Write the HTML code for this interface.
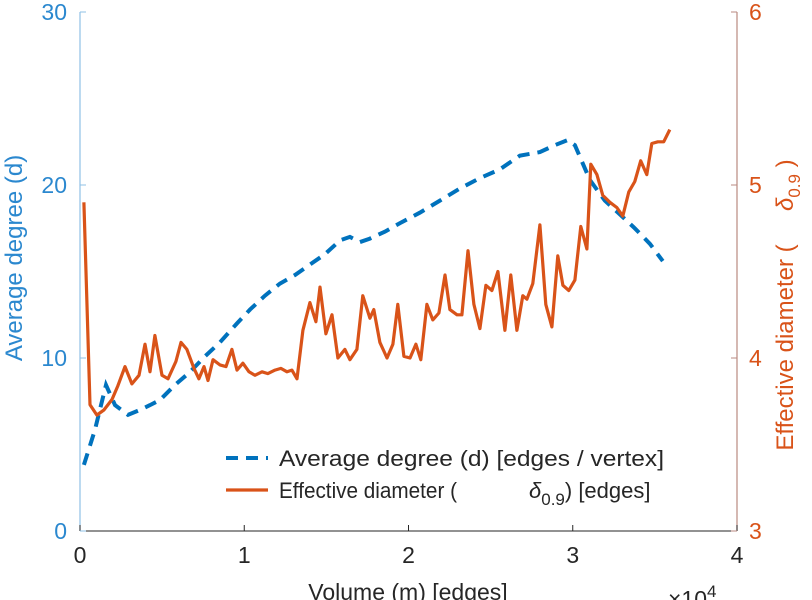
<!DOCTYPE html>
<html><head><meta charset="utf-8"><style>
html,body{margin:0;padding:0;background:#fff;width:812px;height:600px;overflow:hidden}
svg{display:block;font-family:"Liberation Sans",Arial,sans-serif}
</style></head><body>
<svg id="chart" width="812" height="600" viewBox="0 0 812 600" xmlns="http://www.w3.org/2000/svg"></svg>
<script>
const xTicks=[0,1,2,3,4];
const leftTicks=[0,10,20,30];
const rightTicks=[3,4,5,6];
const degX=[0.024,0.091,0.158,0.213,0.292,0.365,0.426,0.487,0.578,0.670,0.761,0.852,0.956,1.035,1.126,1.217,1.309,1.400,1.491,1.583,1.643,1.704,1.765,1.856,1.948,2.069,2.191,2.313,2.435,2.556,2.678,2.800,2.891,2.970,3.013,3.104,3.195,3.287,3.378,3.470,3.548];
const degY=[3.82,5.84,8.44,7.28,6.71,7.0,7.28,7.57,8.44,9.19,10.1,10.9,12.0,12.8,13.6,14.3,14.8,15.4,16.0,16.8,17.0,16.7,16.9,17.3,17.8,18.4,19.1,19.8,20.4,20.9,21.7,21.9,22.3,22.6,22.3,20.3,19.1,18.3,17.5,16.6,15.6];
const diaX=[0.024,0.061,0.103,0.146,0.195,0.231,0.274,0.316,0.359,0.396,0.426,0.456,0.499,0.536,0.584,0.615,0.651,0.694,0.724,0.755,0.779,0.810,0.852,0.889,0.925,0.956,0.992,1.029,1.065,1.108,1.144,1.187,1.223,1.260,1.290,1.321,1.357,1.400,1.436,1.461,1.497,1.534,1.570,1.613,1.643,1.686,1.722,1.765,1.789,1.826,1.869,1.905,1.935,1.972,2.009,2.045,2.075,2.112,2.148,2.185,2.222,2.252,2.295,2.325,2.362,2.398,2.435,2.471,2.508,2.544,2.587,2.623,2.660,2.696,2.721,2.757,2.800,2.836,2.873,2.909,2.940,2.976,3.013,3.049,3.086,3.110,3.147,3.183,3.226,3.268,3.305,3.341,3.378,3.414,3.451,3.481,3.518,3.554,3.591];
const diaY=[4.90,3.73,3.67,3.70,3.76,3.84,3.95,3.85,3.90,4.08,3.92,4.13,3.90,3.88,3.98,4.09,4.05,3.94,3.88,3.95,3.87,3.99,3.96,3.95,4.05,3.93,3.97,3.92,3.90,3.92,3.91,3.93,3.94,3.92,3.93,3.88,4.16,4.32,4.21,4.41,4.14,4.25,4.00,4.05,3.99,4.05,4.36,4.23,4.28,4.09,4.00,4.08,4.31,4.01,4.00,4.08,3.99,4.31,4.22,4.26,4.48,4.28,4.25,4.25,4.62,4.31,4.17,4.42,4.39,4.50,4.16,4.48,4.16,4.36,4.34,4.43,4.77,4.31,4.18,4.59,4.42,4.39,4.45,4.76,4.63,5.12,5.06,4.94,4.90,4.87,4.82,4.96,5.02,5.14,5.06,5.24,5.25,5.25,5.32];

const L=80,R=737,T=12,B=531;
const BLUE="#0072BD",BLUET="#2b88cf",ORANGE="#D95319";
const sx=v=>L+(v-0)/(4-0)*(R-L);
const sl=v=>B-(v-0)/(30-0)*(B-T);
const sr=v=>B-(v-3)/(6-3)*(B-T);
const svg=document.getElementById('chart');
const NS="http://www.w3.org/2000/svg";
function mk(tag,attrs,parent){const e=document.createElementNS(NS,tag);for(const k in attrs)e.setAttribute(k,attrs[k]);(parent||svg).appendChild(e);return e;}

const ax=mk('g',{});


mk('line',{x1:L,y1:B,x2:R,y2:B,stroke:'#262626','stroke-width':1},ax);
mk('line',{x1:L,y1:T,x2:L,y2:B,stroke:'#8fc0e6','stroke-width':1.2},ax);
mk('line',{x1:R,y1:T,x2:R,y2:B,stroke:'#b98a80','stroke-width':1.2},ax);

xTicks.forEach(t=>{
  mk('line',{x1:sx(t),y1:B,x2:sx(t),y2:B-6,stroke:'#262626'},ax);
  const tx=mk('text',{x:sx(t),y:B+32,'text-anchor':'middle','font-size':23,fill:'#262626'},ax);
  tx.textContent=t;
  
  
});
leftTicks.forEach(t=>{
  mk('line',{x1:L,y1:sl(t),x2:L+6,y2:sl(t),stroke:'#8fc0e6'},ax);
  const tx=mk('text',{x:L-13,y:sl(t)+8,'text-anchor':'end','font-size':23,fill:BLUET},ax);
  tx.textContent=t;
  
  
});
rightTicks.forEach(t=>{
  mk('line',{x1:R,y1:sr(t),x2:R-6,y2:sr(t),stroke:'#b98a80'},ax);
  const tx=mk('text',{x:R+12,y:sr(t)+8,'text-anchor':'start','font-size':23,fill:ORANGE},ax);
  tx.textContent=t;
  
  
});

const pd=degX.map((x,i)=>(i?'L':'M')+sx(x).toFixed(1)+','+sl(degY[i]).toFixed(1)).join('');
const p1=mk('path',{d:pd,fill:'none',stroke:BLUE,'stroke-width':4,'stroke-dasharray':'12,8'});


const pr=diaX.map((x,i)=>(i?'L':'M')+sx(x).toFixed(1)+','+sr(diaY[i]).toFixed(1)).join('');
const p2=mk('path',{d:pr,fill:'none',stroke:ORANGE,'stroke-width':3.2,'stroke-linejoin':'round'});



const lg=mk('g',{});


mk('line',{x1:226,y1:458,x2:268,y2:458,stroke:BLUE,'stroke-width':4,'stroke-dasharray':'12,8'},lg);
mk('line',{x1:226,y1:490,x2:268,y2:490,stroke:ORANGE,'stroke-width':3.2},lg);
const l1=mk('text',{x:279,y:466,'font-size':22,fill:'#262626','textLength':385,'lengthAdjust':'spacingAndGlyphs'},lg);
l1.textContent='Average degree (d) [edges / vertex]';


const l2=mk('text',{x:279,y:498,'font-size':22,fill:'#262626','textLength':178,'lengthAdjust':'spacingAndGlyphs'},lg);
l2.textContent='Effective diameter (';


const l3=mk('text',{x:529,y:498,'font-size':22,fill:'#262626'},lg);
l3.innerHTML='<tspan font-style="italic">δ</tspan><tspan dy="7" font-size="17">0.9</tspan><tspan dy="-7">) [edges]</tspan>';



const xl=mk('text',{x:408,y:600,'text-anchor':'middle','font-size':23,fill:'#262626'});
xl.textContent='Volume (m) [edges]';


const xe=mk('text',{x:668,y:607,'font-size':23,fill:'#262626'});
xe.innerHTML='×10<tspan dy="-10" font-size="17">4</tspan>';


const yl=mk('text',{x:0,y:0,'text-anchor':'middle','font-size':24,fill:BLUET,transform:'translate(22,258) rotate(-90)'});
yl.textContent='Average degree (d)';


const yr=mk('text',{x:0,y:0,'text-anchor':'middle','font-size':24,fill:ORANGE,transform:'translate(793,305) rotate(-90)'});
yr.innerHTML='Effective diameter (&#160;&#160;&#160;&#160;&#160;<tspan font-style="italic">δ</tspan><tspan dy="7" font-size="17">0.9</tspan><tspan dy="-7"> )</tspan>';


</script>
</body></html>
